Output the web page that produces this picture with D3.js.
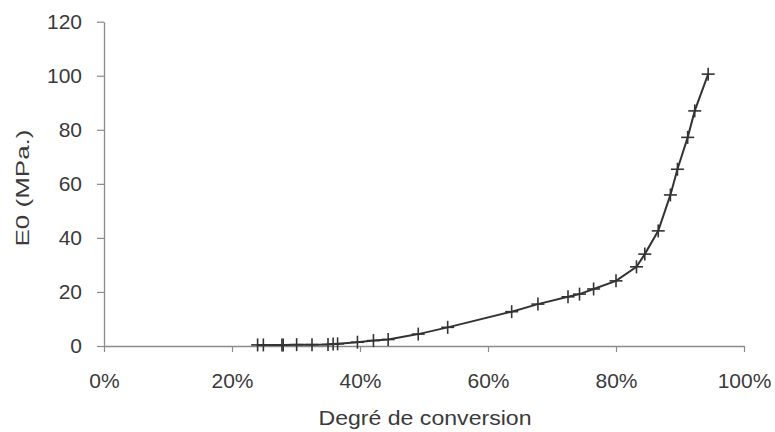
<!DOCTYPE html>
<html>
<head>
<meta charset="utf-8">
<script src="https://cdn.jsdelivr.net/npm/d3@7"></script>
<style>
  html, body { margin: 0; padding: 0; background: #fff; }
  svg { display: block; }
</style>
</head>
<body>
<svg id="chart" width="775" height="432"></svg>
<script>
// Degré de conversion (fraction)
const conversion = [0.240, 0.249, 0.278, 0.280, 0.301, 0.325, 0.350, 0.358, 0.365, 0.396,
  0.421, 0.444, 0.491, 0.537, 0.637, 0.678, 0.725, 0.743, 0.765, 0.800,
  0.832, 0.845, 0.866, 0.885, 0.896, 0.912, 0.923, 0.944];
// E0 (MPa.)
const modulus = [0.4, 0.4, 0.4, 0.4, 0.5, 0.5, 0.6, 0.7, 0.8, 1.4,
  2.0, 2.4, 4.4, 6.9, 12.7, 15.5, 18.2, 19.2, 21.1, 24.1,
  29.3, 34.0, 42.6, 55.9, 65.4, 77.2, 87.0, 100.6];
const xTicks = [0, 0.2, 0.4, 0.6, 0.8, 1.0];
const yTicks = [0, 20, 40, 60, 80, 100, 120];
const xTitle = "Degré de conversion";
const yTitle = "E0 (MPa.)";

const points = conversion.map((c, i) => ({ x: c, y: modulus[i] }));

const svg = d3.select("#chart");
const font = "'Liberation Sans', Arial, sans-serif";
const axisColor = "#8a8a8a";
const textColor = "#3a3a3a";
const inkColor = "#333";

const x = d3.scaleLinear().domain([0, 1]).range([104, 744]);
const y = d3.scaleLinear().domain([0, 120]).range([346, 21.7]);

// X axis
const gx = svg.append("g")
  .attr("transform", `translate(0,${y(0)})`)
  .call(d3.axisBottom(x).tickValues(xTicks).tickFormat(d3.format(".0%")).tickSizeInner(6).tickSizeOuter(0).tickPadding(21));
gx.select(".domain").attr("stroke", axisColor).attr("stroke-width", 1.3);
gx.selectAll(".tick line").attr("stroke", axisColor).attr("stroke-width", 1.2);
gx.selectAll(".tick text").attr("fill", textColor).attr("font-family", font).attr("font-size", 21);

// Y axis
const gy = svg.append("g")
  .attr("transform", `translate(${x(0)},0)`)
  .call(d3.axisLeft(y).tickValues(yTicks).tickSizeInner(7).tickSizeOuter(0).tickPadding(15));
gy.select(".domain").attr("stroke", axisColor).attr("stroke-width", 1.3);
gy.selectAll(".tick line").attr("stroke", axisColor).attr("stroke-width", 1.2);
gy.selectAll(".tick text").attr("fill", textColor).attr("font-family", font).attr("font-size", 21);

// Line
const line = d3.line().x(d => x(d.x)).y(d => y(d.y)).curve(d3.curveLinear);
svg.append("path")
  .datum(points)
  .attr("fill", "none")
  .attr("stroke", inkColor)
  .attr("stroke-width", 2)
  .attr("d", line);

// Plus markers
const sym = d3.symbol().type(d3.symbolCross);
const half = 6.5;
const mk = svg.append("g").attr("stroke", inkColor).attr("stroke-width", 1.6);
mk.selectAll("line.h").data(points).join("line")
  .attr("class", "h")
  .attr("x1", d => x(d.x) - half).attr("x2", d => x(d.x) + half)
  .attr("y1", d => y(d.y)).attr("y2", d => y(d.y));
mk.selectAll("line.v").data(points).join("line")
  .attr("class", "v")
  .attr("x1", d => x(d.x)).attr("x2", d => x(d.x))
  .attr("y1", d => y(d.y) - half).attr("y2", d => y(d.y) + half);

// Titles
svg.append("text")
  .attr("x", 425).attr("y", 425)
  .attr("text-anchor", "middle")
  .attr("font-family", font).attr("font-size", 21)
  .attr("fill", textColor)
  .attr("textLength", 213).attr("lengthAdjust", "spacingAndGlyphs")
  .text(xTitle);

svg.append("text")
  .attr("transform", "translate(29,188) rotate(-90)")
  .attr("text-anchor", "middle")
  .attr("font-family", font).attr("font-size", 19)
  .attr("fill", textColor)
  .attr("textLength", 117).attr("lengthAdjust", "spacingAndGlyphs")
  .text(yTitle);
</script>
</body>
</html>
